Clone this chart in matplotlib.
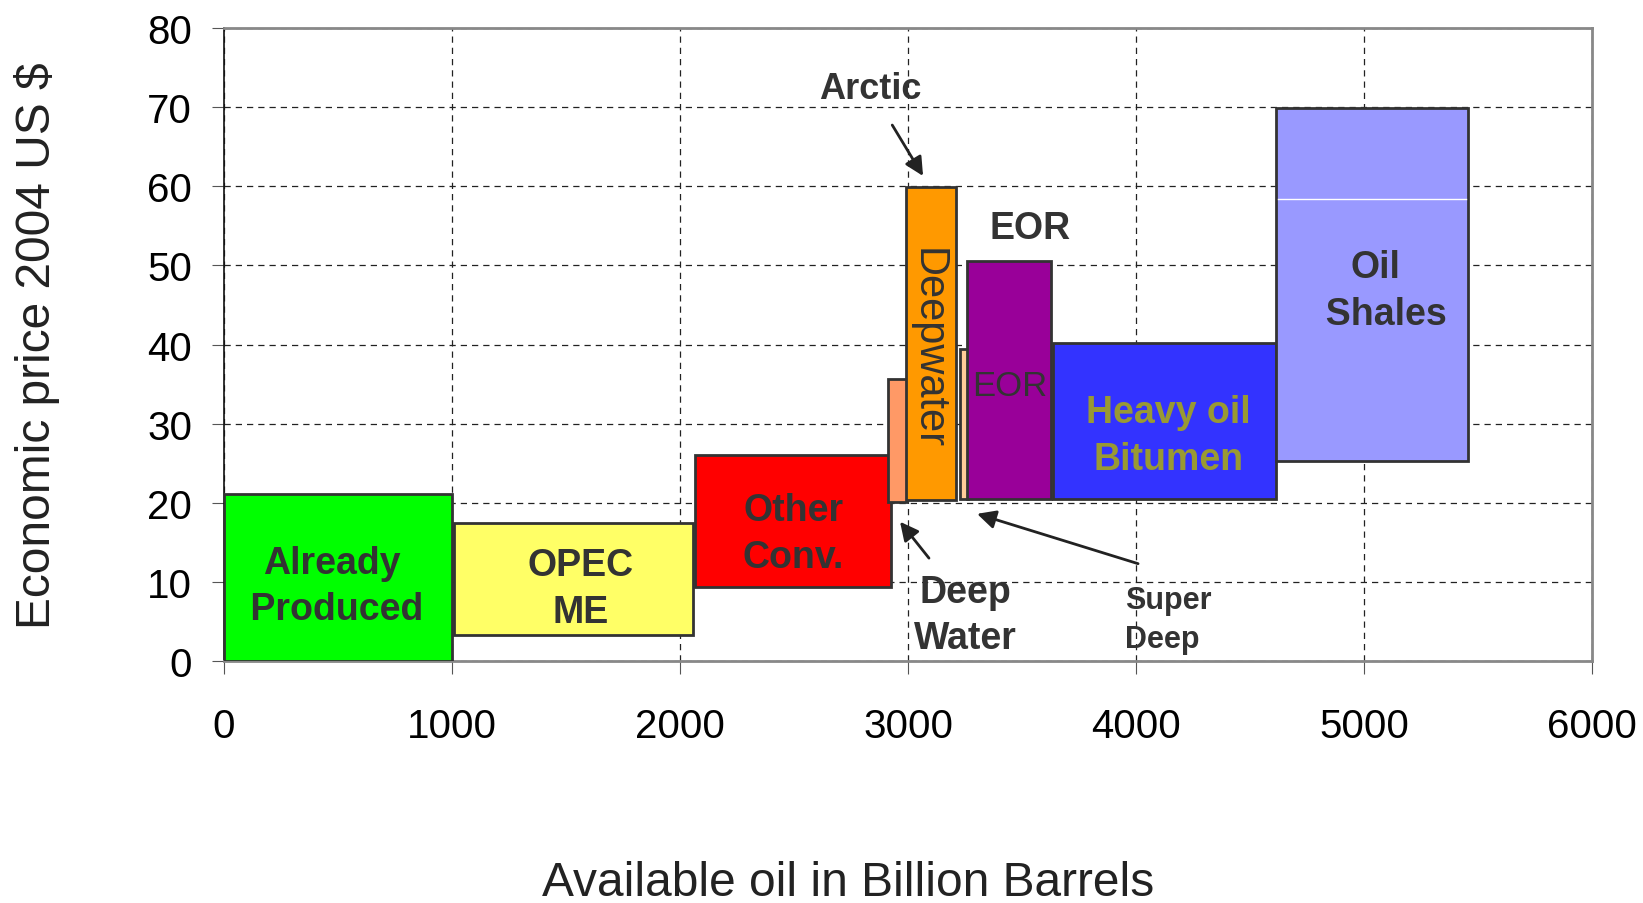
import matplotlib
matplotlib.use("Agg")
import matplotlib.pyplot as plt
from matplotlib.patches import Rectangle

plt.rcParams['font.family'] = ['Liberation Sans', 'DejaVu Sans']

# Resource blocks: cumulative volume range (billion barrels) and price range (2004 US $)
categories = ["Already Produced", "OPEC ME", "Other Conv.", "Deep Water",
              "Deepwater", "Super Deep", "EOR", "Heavy oil Bitumen", "Oil Shales"]
x_start = [0, 1010, 2065, 2912, 2990, 3228, 3259, 3636, 4614]
x_end = [1000, 2055, 2925, 2996, 3211, 3263, 3627, 4614, 5456]
price_low = [0, 3.3, 9.3, 20.1, 20.4, 20.5, 20.5, 20.5, 25.3]
price_high = [21.1, 17.5, 26.0, 35.6, 59.9, 39.4, 50.5, 40.2, 69.9]
colors = ["#00FF00", "#FFFF66", "#FF0000", "#FF9966", "#FF9900",
          "#FFCC99", "#990099", "#3333FF", "#9999FF"]
draw_order = [0, 1, 2, 3, 5, 4, 6, 7, 8]

shale_split = 58.4

x_ticks = [0, 1000, 2000, 3000, 4000, 5000, 6000]
y_ticks = [0, 10, 20, 30, 40, 50, 60, 70, 80]

fig = plt.figure(figsize=(16.43, 9.04), dpi=100)
ax = fig.add_axes([0.1363, 0.2677, 0.8327, 0.7002])
ax.set_xlim(0, 6000)
ax.set_ylim(0, 80)
ax.set_xticks(x_ticks)
ax.set_yticks(y_ticks)

ax.grid(True, color="#222222", linewidth=0.9, linestyle=(0, (5, 4)), zorder=0)
ax.set_axisbelow(True)

for i in draw_order:
    ax.add_patch(Rectangle((x_start[i], price_low[i]), x_end[i] - x_start[i],
                           price_high[i] - price_low[i], facecolor=colors[i],
                           edgecolor="#333333", linewidth=2.0, zorder=3))

# thin light seam across the oil shale block
ax.plot([x_start[8] + 10, x_end[8] - 10], [shale_split, shale_split],
        color="white", linewidth=1.0, zorder=4)

ax.tick_params(axis="both", labelsize=29, direction="out", color="#555555")
ax.tick_params(axis="x", length=9, pad=24)
ax.tick_params(axis="y", length=9, pad=14)

for side in ["top", "right", "bottom"]:
    ax.spines[side].set_color("#888888")
    ax.spines[side].set_linewidth(2)
ax.spines["left"].set_color("#111111")
ax.spines["left"].set_linewidth(1.2)

ax.set_ylabel("Economic price 2004 US $", fontsize=34.5, color="#222222")
ax.yaxis.set_label_coords(-0.137, 0.5)
ax.yaxis.label.set_va("center")
ax.set_xlabel("Available oil in Billion Barrels", fontsize=34.5, color="#222222")
ax.xaxis.set_label_coords(0.456, -0.369)
ax.xaxis.label.set_va("baseline")

dark = "#333333"
bold = dict(fontsize=27, fontweight="bold", color=dark, ha="center",
            va="center", multialignment="center", zorder=5, linespacing=1.38)

ax.text(474, 9.5, "Already\n Produced", **bold)
ax.text(1565, 9.2, "OPEC\nME", **bold)
ax.text(2496, 16.1, "Other\nConv.", **bold)
ax.text(4141, 28.5, "Heavy oil\nBitumen", **{**bold, "color": "#999933"})
ax.text(5050, 46.8, "Oil\n  Shales", **bold)
ax.text(3535, 54.7, "EOR", **bold)
ax.text(3088, 39.6, "Deepwater", fontsize=30, color=dark, rotation=-90,
        ha="center", va="center", zorder=5)
ax.text(3447, 34.8, "EOR", fontsize=25, color=dark, ha="center",
        va="center", zorder=5)

arrow = dict(arrowstyle="-|>", color="#222222", lw=2, mutation_scale=28,
             shrinkA=0, shrinkB=0)
ax.annotate("Arctic", xy=(3066, 61.3), xytext=(2833, 72.4),
            fontsize=26, fontweight="bold", color=dark, ha="center", va="center",
            arrowprops=dict(arrow, shrinkA=14), annotation_clip=False, zorder=5)
ax.annotate("", xy=(2965, 17.6), xytext=(3092, 13.0), arrowprops=arrow, zorder=5)
ax.text(3250, 5.8, "Deep\nWater", **bold)
ax.annotate("", xy=(3303, 18.6), xytext=(4009, 12.3), arrowprops=arrow, zorder=5)
ax.text(3952, 5.2, "Super\nDeep", fontsize=22, fontweight="bold", color=dark,
        ha="left", va="center", linespacing=1.38, zorder=5)

fig.savefig("out.png", dpi=100)
